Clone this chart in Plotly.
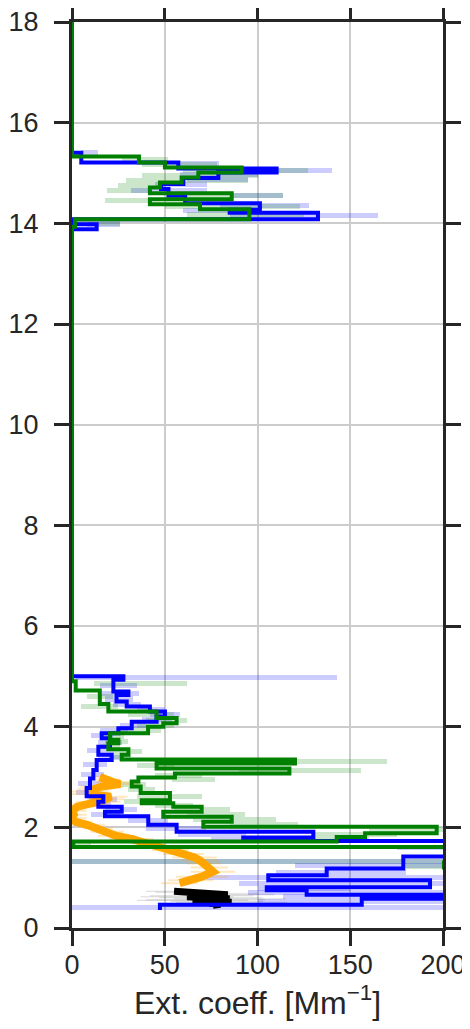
import plotly.graph_objects as go

# ---- step profiles: bin edges (km, ascending) and extinction per bin [Mm-1] ----
green_edges = [0.40, 1.20, 1.30, 1.61, 1.72, 1.81, 1.88, 2.01, 2.11, 2.21, 2.31, 2.41, 2.48, 2.54,
               2.68, 2.81, 2.91, 2.99, 3.07, 3.17, 3.27, 3.35, 3.44, 3.55, 3.67, 3.74, 3.87, 4.00,
               4.07, 4.17, 4.30, 4.45, 4.72, 4.90, 13.93, 14.08, 14.28, 14.38, 14.48, 14.60, 14.71,
               14.81, 14.91, 15.01, 15.11, 15.21, 15.33, 18.0]
green_vals = [260, 200.5, 260, 0.7, 142.7, 158, 196.6, 70.8, 86.1, 49.2, 69.9, 54.6, 37.6, 52.8,
              37, 32.2, 35.8, 55.5, 117.2, 45.6, 120.2, 26.8, 30.4, 19.6, 25, 20.5, 41, 49.2,
              56.4, 45.6, 19.6, 15, 2, 0, 1.6, 95.6, 69, 42, 86.1, 42, 47.4, 59.1, 68.1, 91.5,
              50.1, 36.1, 0]

blue_edges = [0.36, 0.46, 0.58, 0.66, 0.75, 0.81, 0.95, 1.05, 1.18, 1.42, 1.73, 1.80, 1.91, 2.05,
              2.22, 2.31, 2.41, 2.51, 2.62, 2.78, 2.97, 3.14, 3.34, 3.44, 3.60, 3.77, 3.87, 3.97,
              4.10, 4.20, 4.30, 4.40, 4.50, 4.63, 4.70, 4.93, 5.00, 13.88, 13.98, 14.08, 14.21,
              14.27, 14.40, 14.55, 14.68, 14.78, 14.90, 15.01, 15.09, 15.21, 15.40, 18.0]
blue_vals = [47.4, 156.2, 260, 126.5, 105, 193, 105.8, 137.3, 178.6, 260, 92.3, 130.1, 56.4, 41.1,
             17.8, 26.8, 14.2, 16.9, 7.9, 9.7, 11.5, 13.3, 21.4, 14.2, 20.5, 16, 25, 32.2, 45.6,
             50.1, 42, 29.5, 24, 30.4, 22.3, 27.7, 0, 13.3, 1, 132.6, 85, 101.3, 61, 52, 48, 60,
             78.9, 110.3, 57.3, 5, 0]

# ---- uncertainty ranges (altitude, low, high) ----
blue_band_alt = [15.40, 15.18, 15.05, 14.97, 14.88, 14.78, 14.65, 14.55, 14.36, 14.25, 14.15, 13.97,
                 4.97, 4.82, 4.66, 4.55, 4.45, 4.35, 4.25, 4.15, 4.03, 3.92, 3.82, 3.68, 3.52, 3.39,
                 3.24, 3.05, 2.87, 2.70, 2.56, 2.46, 2.36, 2.26, 2.13, 1.98, 1.85, 1.76, 1.60, 1.33,
                 1.25, 1.10, 1.00, 0.88, 0.78, 0.70, 0.62, 0.52, 0.41]
blue_band_lo = [5, 58, 110, 58, 62, 45, 32, 86, 80, 60, 85, 8,
                2, 15, 16, 18, 22, 35, 42, 38, 26, 15, 10, 14, 8, 14,
                6, 5, 3, 2, 9, 7, 18, 10, 30, 40, 57, 75, 175, 0,
                120, 110, 72, 90, 100, 95, 114, 100, 0]
blue_band_hi = [14, 79, 140, 100, 95, 73, 73, 114, 128, 100, 165, 26,
                143, 35, 36, 33, 37, 50, 58, 54, 40, 30, 22, 27, 22, 28,
                19, 17, 16, 14, 24, 21, 35, 26, 52, 72, 94, 110, 230, 230,
                230, 180, 230, 230, 150, 230, 230, 200, 230]

green_band_alt = [15.27, 15.16, 15.05, 14.95, 14.85, 14.75, 14.65, 14.55, 14.45, 14.33, 14.18, 14.00,
                  4.85, 4.60, 4.40, 4.24, 4.12, 4.03, 3.93, 3.80, 3.70, 3.61, 3.50, 3.40, 3.31, 3.22,
                  3.12, 3.03, 2.95, 2.86, 2.75, 2.61, 2.51, 2.44, 2.36, 2.26, 2.16, 2.06, 1.95, 1.85,
                  1.76, 1.66, 1.33, 1.22]
green_band_lo = [27, 38, 60, 38, 29, 25, 19, 60, 18, 50, 62, 0,
                 12, 8, 5, 30, 40, 35, 25, 15, 18, 15, 22, 20, 90, 35,
                 90, 45, 54, 25, 30, 35, 28, 45, 55, 62, 65, 85, 160, 130,
                 120, 0, 0, 180]
green_band_hi = [52, 78, 127, 100, 95, 50, 42, 114, 42, 123, 125, 26,
                 62, 22, 25, 55, 62, 55, 48, 28, 30, 26, 38, 32, 170, 55,
                 156, 70, 77, 40, 45, 70, 48, 65, 85, 93, 110, 122, 230, 175,
                 160, 10, 230, 230]

# ---- high resolution profiles ----
orange_alt = [0.89, 0.95, 1.02, 1.12, 1.20, 1.28, 1.34, 1.40, 1.47, 1.55, 1.63, 1.71, 1.77, 1.83,
              1.91, 1.98, 2.05, 2.11, 2.18, 2.25, 2.33, 2.41, 2.46, 2.51, 2.56, 2.61, 2.66, 2.71,
              2.76, 2.81, 2.86, 2.90, 2.95, 3.00]
orange_val = [58, 64, 70, 76, 74, 71, 69, 66, 60, 53, 46, 40, 32, 24, 19, 14, 8, 2, 0, 1, 0, 3,
              10, 14, 18, 21, 8, 10, 12, 16, 26, 22, 18, 15]
orange_err = [10, 12, 14, 12, 10, 9, 10, 12, 11, 10, 9, 10, 12, 10, 9, 8, 10, 9, 8, 7, 8, 9,
              10, 12, 10, 9, 12, 10, 9, 12, 10, 9, 8, 6]

black_alt = [0.45, 0.47, 0.49, 0.51, 0.53, 0.55, 0.56, 0.58, 0.60, 0.62, 0.64, 0.66, 0.68, 0.71,
             0.73]
black_val = [76, 80, 74, 86, 78, 65, 72, 85, 75, 62, 70, 84, 78, 65, 55]
black_err = [18, 25, 28, 30, 25, 30, 32, 30, 28, 25, 28, 25, 22, 20, 15]

x_ticks = [0, 50, 100, 150, 200]
y_ticks = [0, 2, 4, 6, 8, 10, 12, 14, 16, 18]

INK = "#262626"


def step_path(edges, vals):
    xs, ys = [], []
    for i, v in enumerate(vals):
        xs += [v, v]
        ys += [edges[i], edges[i + 1]]
    return xs, ys


def bands(alt, lo, hi, color):
    return go.Bar(orientation="h", y=alt, base=lo, x=[h - l for l, h in zip(lo, hi)],
                  width=0.1, marker=dict(color=color, line=dict(width=0)),
                  showlegend=False, hoverinfo="skip")


fig = go.Figure()

fig.add_trace(go.Scatter(x=orange_val, y=orange_alt, mode="lines",
                         line=dict(color="orange", width=8),
                         error_x=dict(type="data", array=orange_err, color="rgba(255,165,0,0.25)",
                                      thickness=2, width=0),
                         showlegend=False))
fig.add_trace(go.Scatter(x=black_val, y=black_alt, mode="lines",
                         line=dict(color="black", width=7),
                         error_x=dict(type="data", array=black_err, color="rgba(0,0,0,0.15)",
                                      thickness=1, width=0),
                         showlegend=False))

fig.add_trace(bands(blue_band_alt, blue_band_lo, blue_band_hi, "rgba(0,0,255,0.2)"))
fig.add_trace(bands(green_band_alt, green_band_lo, green_band_hi, "rgba(0,128,0,0.2)"))

bx, by = step_path(blue_edges, blue_vals)
fig.add_trace(go.Scatter(x=bx, y=by, mode="lines", line=dict(color="blue", width=4),
                         showlegend=False))
gx, gy = step_path(green_edges, green_vals)
fig.add_trace(go.Scatter(x=gx, y=gy, mode="lines", line=dict(color="green", width=4),
                         showlegend=False))

axis_common = dict(showline=True, linecolor=INK, linewidth=3, mirror="ticks",
                   ticks="outside", ticklen=15, tickwidth=2.5, tickcolor=INK,
                   showgrid=True, gridcolor="#cccccc", gridwidth=2, zeroline=False,
                   automargin=False, ticklabeloverflow="allow",
                   tickfont=dict(size=27, color=INK))

fig.update_xaxes(range=[0, 200], tickvals=x_ticks, ticklabelstandoff=-4,
                 title=dict(text="Ext. coeff. [Mm<sup>−1</sup>]", font=dict(size=32, color=INK),
                            standoff=12),
                 **axis_common)
fig.update_yaxes(range=[0, 18], tickvals=y_ticks, ticklabelstandoff=10, **axis_common)

# page body adds 8 px, so the figure is 8 px smaller and margins shifted
fig.update_layout(width=462, height=1021, barmode="overlay", bargap=0,
                  margin=dict(l=64, r=27, t=14, b=101),
                  paper_bgcolor="white", plot_bgcolor="white",
                  font=dict(family="Arial, Liberation Sans, sans-serif", color=INK))

fig.write_html("out.html")
